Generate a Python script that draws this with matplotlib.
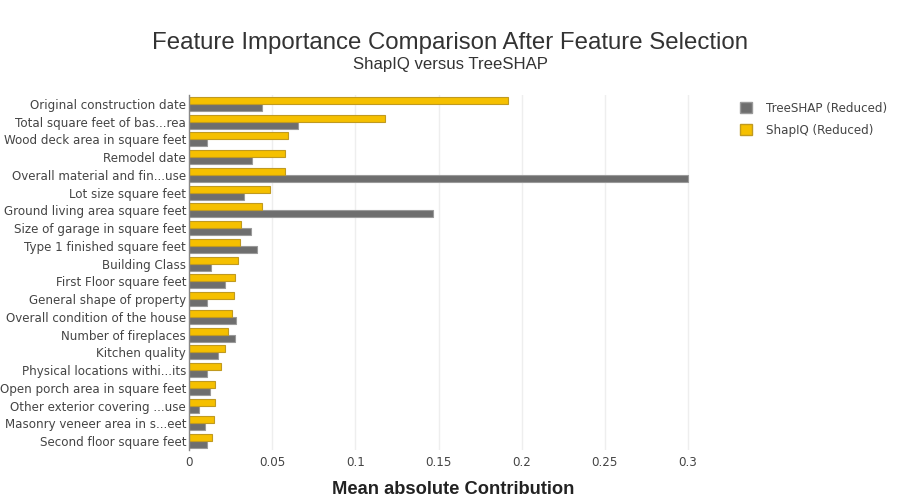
import numpy as np
import matplotlib
matplotlib.use("Agg")
import matplotlib.pyplot as plt
from matplotlib.patches import Patch

features = [
    "Original construction date",
    "Total square feet of bas...rea",
    "Wood deck area in square feet",
    "Remodel date",
    "Overall material and fin...use",
    "Lot size square feet",
    "Ground living area square feet",
    "Size of garage in square feet",
    "Type 1 finished square feet",
    "Building Class",
    "First Floor square feet",
    "General shape of property",
    "Overall condition of the house",
    "Number of fireplaces",
    "Kitchen quality",
    "Physical locations withi...its",
    "Open porch area in square feet",
    "Other exterior covering ...use",
    "Masonry veneer area in s...eet",
    "Second floor square feet",
]
shapiq = [0.1916, 0.1178, 0.0596, 0.0580, 0.0580, 0.0484, 0.0440, 0.0314, 0.0308, 0.0294,
          0.0276, 0.0272, 0.0256, 0.0236, 0.0214, 0.0190, 0.0158, 0.0156, 0.0148, 0.0136]
treeshap = [0.0438, 0.0654, 0.0110, 0.0376, 0.3000, 0.0328, 0.1466, 0.0370, 0.0408, 0.0132,
            0.0216, 0.0110, 0.0284, 0.0278, 0.0176, 0.0108, 0.0128, 0.0062, 0.0098, 0.0110]
xticks = [0, 0.05, 0.1, 0.15, 0.2, 0.25, 0.3]
xtick_labels = ["0", "0.05", "0.1", "0.15", "0.2", "0.25", "0.3"]

yellow = "#f5c000"
gray = "#6e6e6e"
text_col = "#444444"

fig = plt.figure(figsize=(9, 5), dpi=100)
ax = fig.add_axes([0.21, 0.10, 0.573, 0.71])

n = len(features)
y = np.arange(n)[::-1]
h = 0.4
ax.barh(y - h / 2, treeshap, height=h, color=gray, edgecolor="#9a9a9a", linewidth=0.8,
        label="TreeSHAP (Reduced)", zorder=3)
ax.barh(y + h / 2, shapiq, height=h, color=yellow, edgecolor="#c09a20", linewidth=0.8,
        label="ShapIQ (Reduced)", zorder=3)

ax.set_ylim(-0.5, n - 0.5)
ax.set_xlim(0, 0.31)
ax.set_yticks(y)
ax.set_yticklabels(features, fontsize=8.6, color=text_col, family="DejaVu Sans")
ax.set_xticks(xticks)
ax.set_xticklabels(xtick_labels, fontsize=8.6, color=text_col, family="DejaVu Sans")
ax.tick_params(axis="both", length=0, pad=2)
ax.tick_params(axis="x", pad=4)
ax.grid(axis="x", color="#eeeeee", linewidth=1, zorder=0)
for s in ["top", "right", "bottom"]:
    ax.spines[s].set_visible(False)
ax.spines["left"].set_color("#888888")
ax.spines["left"].set_linewidth(1)
ax.spines["left"].set_zorder(4)

fig.text(0.503, 0.022, "Mean absolute Contribution", ha="center", va="center",
         fontsize=13.2, fontweight="heavy", family="Liberation Sans", color="#222222")

fig.text(0.5, 0.915, "Feature Importance Comparison After Feature Selection",
         ha="center", va="center", fontsize=17.3, color="#333333", family="Liberation Sans")
fig.text(0.5, 0.872, "ShapIQ versus TreeSHAP", ha="center", va="center",
         fontsize=12.1, color="#333333", family="Liberation Sans")

handles = [Patch(facecolor=gray, edgecolor="#9a9a9a", label="TreeSHAP (Reduced)"),
           Patch(facecolor=yellow, edgecolor="#c09a20", label="ShapIQ (Reduced)")]
leg = fig.legend(handles=handles, loc="upper left", bbox_to_anchor=(0.81, 0.818),
                 frameon=False, fontsize=8.6, handlelength=1.0, handleheight=1.0,
                 handletextpad=1.2, labelspacing=0.75)
for t in leg.get_texts():
    t.set_color(text_col)

fig.savefig("out.png", dpi=100)
